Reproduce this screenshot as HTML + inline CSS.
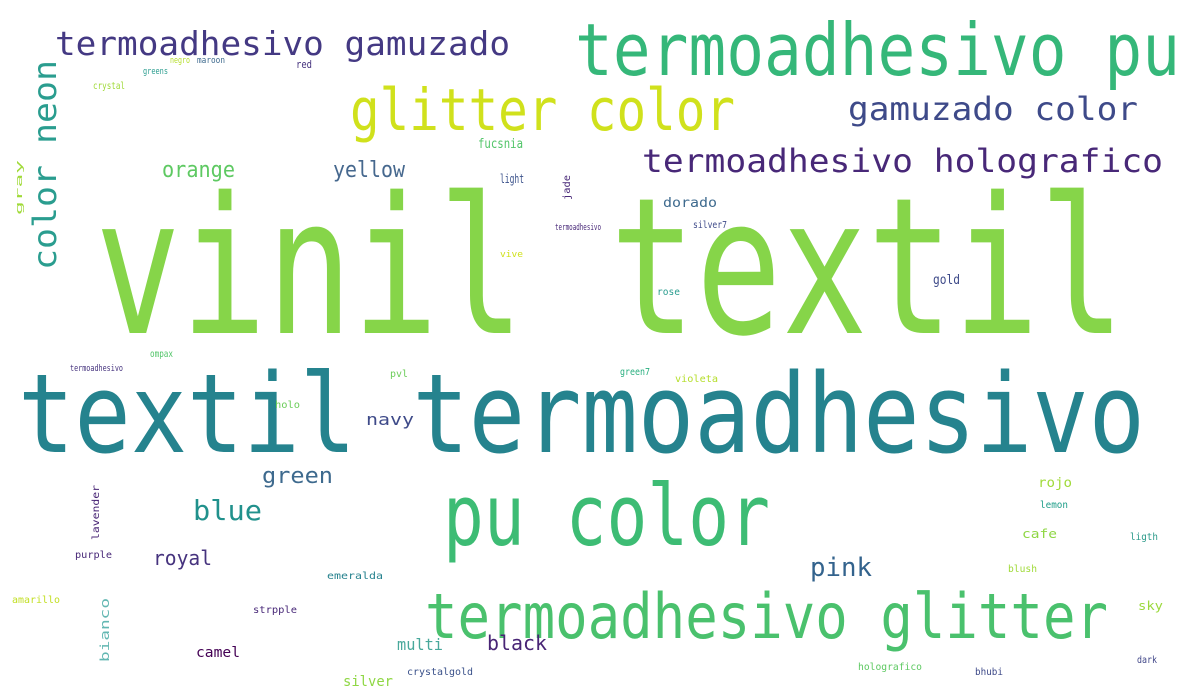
<!DOCTYPE html>
<html><head><meta charset="utf-8"><style>
html,body{margin:0;padding:0;background:#fff;}
svg{display:block}
text{font-family:"DejaVu Sans Mono","Liberation Mono",monospace;}
</style></head><body>
<svg id="cloud" width="1200" height="700" viewBox="0 0 1200 700" xmlns="http://www.w3.org/2000/svg">
<rect width="1200" height="700" fill="#fff"/>
</svg>
<script>
const words = ["vinil textil","textil termoadhesivo","pu color","termoadhesivo glitter","termoadhesivo pu","glitter color","termoadhesivo gamuzado","gamuzado color","termoadhesivo holografico","color neon","orange","yellow","green","blue","royal","pink","navy","black","multi","camel","silver","crystalgold","holografico","bhubi","dark","sky","blush","cafe","ligth","lemon","rojo","green7","violeta","pvl","holo","termoadhesivo","ompax","emeralda","purple","lavender","amarillo","bianco","strpple","crystal","greens","negro","maroon","red","fucsnia","light","jade","dorado","termoadhesivo","silver7","gold","rose","vive","gray"];
const sizes = [190,110,85,62,72,58,33,32,32,32,22,22,22,28,20,26,16,20,16,14,14,10,10,10,10,12,10,12,10,10,13,10,10,10,10,9,10,10,10,10,10,12,10,10,9,9,9,11,13,12,10,13,9,10,13,10,9,9];
const colors = ["#86d549","#25838e","#3dbc74","#4ac16d","#35b779","#d0e11c","#443983","#3e4a89","#482878","#2a9d8f","#5ec962","#46688e","#3e6a8e","#21918c","#46337e","#33638d","#3e4a89","#482475","#48a89b","#440154","#8fd744","#3b528b","#5ec962","#3e4a89","#404688","#9bd93c","#a0da39","#8fd744","#2c9a8a","#1f9e89","#a0da39","#29af7f","#b5de2b","#6ccd5a","#6ccd5a","#46337e","#52c569","#26828e","#482878","#482475","#c2df23","#63b7b2","#482878","#a0da39","#2a9d8f","#b5de2b","#3e6a8e","#46337e","#52c569","#3b528b","#482878","#3e6a8e","#482878","#3e4a89","#3e4a89","#2a9d8f","#d0e11c","#a0da39"];
// layout boxes: x, baseline y, width, rotate flag
const layout = [
[95,333,1030,0],[18,452,1127,0],[443,545,327,0],[425,638,683,0],[575,75,605,0],[350,130,385,0],[55,55,455,0],[848,120,290,0],[642,172,521,0],[56,270,210,1],
[162,177,73,0],[333,177,72,0],[262,483,71,0],[193,520,69,0],[153,565,59,0],[810,576,62,0],[366,425,48,0],[487,650,60,0],[397,650,46,0],[196,657,44,0],
[343,686,50,0],[407,675,66,0],[858,670,64,0],[975,675,28,0],[1137,663,20,0],[1138,610,25,0],[1008,572,29,0],[1022,538,35,0],[1130,540,28,0],[1040,508,28,0],
[1038,487,34,0],[620,375,30,0],[675,382,43,0],[390,377,18,0],[275,408,25,0],[70,371,53,0],[150,357,23,0],[327,579,56,0],[75,558,37,0],[99,540,55,1],
[12,603,48,0],[109,662,64,1],[253,613,44,0],[93,89,32,0],[143,74,25,0],[170,63,20,0],[197,63,28,0],[296,68,16,0],[478,148,45,0],[500,183,24,0],
[570,200,25,1],[663,207,54,0],[555,230,46,0],[693,228,34,0],[933,284,27,0],[657,295,23,0],[500,257,23,0],[22,215,55,1]
];
const svg = document.getElementById('cloud');
const NS = 'http://www.w3.org/2000/svg';
for (let i = 0; i < words.length; i++) {
  const L = layout[i];
  const t = document.createElementNS(NS, 'text');
  
  
  t.setAttribute('font-size', sizes[i]);
  t.setAttribute('fill', colors[i]);
  t.setAttribute('textLength', L[2]);
  t.setAttribute('lengthAdjust', 'spacingAndGlyphs');
  if (L[3]) {
    t.setAttribute('transform', 'translate(' + L[0] + ',' + L[1] + ') rotate(-90)');
  } else {
    t.setAttribute('x', L[0]);
    t.setAttribute('y', L[1]);
  }
  t.textContent = words[i];
  svg.appendChild(t);
}
</script>
</body></html>
